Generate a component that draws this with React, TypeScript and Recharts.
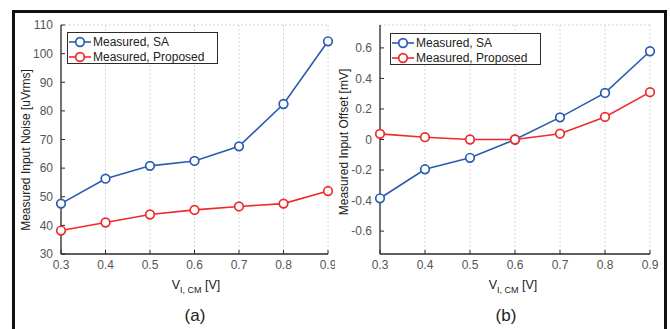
import React from 'react';
import { LineChart, Line, XAxis, YAxis, CartesianGrid } from 'recharts';

const vcm = [0.3, 0.4, 0.5, 0.6, 0.7, 0.8, 0.9];
const noiseSA = [47.6, 56.3, 60.8, 62.5, 67.6, 82.4, 104.3];
const noiseProposed = [38.2, 41.0, 43.8, 45.4, 46.6, 47.6, 52.0];
const offsetSA = [-0.385, -0.195, -0.12, 0.0, 0.145, 0.305, 0.578];
const offsetProposed = [0.037, 0.015, 0.0, 0.0, 0.038, 0.148, 0.31];

const xTicks = [0.3, 0.4, 0.5, 0.6, 0.7, 0.8, 0.9];
const noiseTicks = [30, 40, 50, 60, 70, 80, 90, 100, 110];
const offsetTicks = [-0.6, -0.4, -0.2, 0, 0.2, 0.4, 0.6];

const seriesNames = ['Measured, SA', 'Measured, Proposed'];

const noiseData = vcm.map((x, i) => ({ x, sa: noiseSA[i], pr: noiseProposed[i] }));
const offsetData = vcm.map((x, i) => ({ x, sa: offsetSA[i], pr: offsetProposed[i] }));

const BLUE = '#2a5bb0';
const RED = '#ee2a2a';
const FONT = '"Liberation Sans", Arial, Helvetica, sans-serif';
const AX = '#2b2b2b';
const TICK = { fill: '#555', fontSize: 12, fontFamily: FONT };

const fmtX = (v: number) => v.toFixed(1);
const fmtOff = (v: number) => (v === 0 ? '0' : v.toFixed(1));
const blank = () => '';

function Legend({ left, top, width }: { left: number; top: number; width: number }) {
  const colors = [BLUE, RED];
  return (
    <div
      style={{
        position: 'absolute',
        left,
        top,
        width,
        height: 32,
        border: `1.3px solid ${AX}`,
        background: '#fff',
        boxSizing: 'border-box',
        fontFamily: FONT,
        fontSize: 12,
        color: '#222',
      }}
    >
      {seriesNames.map((n, i) => (
        <div key={n} style={{ position: 'absolute', left: 0, top: 2 + i * 14.5, height: 14, display: 'flex', alignItems: 'center' }}>
          <svg width={25} height={14} style={{ display: 'block' }}>
            <line x1={1} y1={7} x2={23} y2={7} stroke={colors[i]} strokeWidth={1.6} />
            <circle cx={12} cy={7} r={4.3} stroke={colors[i]} strokeWidth={1.7} fill="#fff" />
          </svg>
          <span style={{ marginLeft: 0, lineHeight: '14px' }}>{n}</span>
        </div>
      ))}
    </div>
  );
}

function XLabel({ cx }: { cx: number }) {
  return (
    <div
      style={{
        position: 'absolute',
        left: cx - 60,
        top: 278,
        width: 120,
        textAlign: 'center',
        fontFamily: FONT,
        fontSize: 12.5,
        color: '#222',
        lineHeight: '14px',
      }}
    >
      V<span style={{ fontSize: 9, position: 'relative', top: 4 }}>I, CM</span> [V]
    </div>
  );
}

function YLabel({ cx, cy, text }: { cx: number; cy: number; text: string }) {
  return (
    <div
      style={{
        position: 'absolute',
        left: cx - 100,
        top: cy - 7,
        width: 200,
        height: 14,
        lineHeight: '14px',
        textAlign: 'center',
        fontFamily: FONT,
        fontSize: 12,
        color: '#222',
        transform: 'rotate(-90deg)',
        whiteSpace: 'nowrap',
      }}
    >
      {text}
    </div>
  );
}

function Caption({ cx, text }: { cx: number; text: string }) {
  return (
    <div
      style={{
        position: 'absolute',
        left: cx - 30,
        top: 306,
        width: 60,
        textAlign: 'center',
        fontFamily: FONT,
        fontSize: 17,
        color: '#222',
        lineHeight: '20px',
      }}
    >
      {text}
    </div>
  );
}

function Panel({
  data,
  domain,
  ticks,
  yFmt,
  yWidth,
  rightMargin,
}: {
  data: any[];
  domain: [number, number];
  ticks: number[];
  yFmt: (v: number) => string;
  yWidth: number;
  rightMargin: number;
}) {
  return (
    <LineChart width={335} height={329} data={data} margin={{ top: 25, right: rightMargin, bottom: 0, left: 0 }}>
      <CartesianGrid stroke="#c8c8c8" strokeDasharray="1.5 2.5" strokeWidth={1} />
      <XAxis
        xAxisId="b"
        dataKey="x"
        type="number"
        domain={[0.3, 0.9]}
        ticks={xTicks}
        tickFormatter={fmtX}
        height={75}
        tickSize={-4}
        tickMargin={10}
        tick={TICK}
        axisLine={{ stroke: AX, strokeWidth: 1.3 }}
        tickLine={{ stroke: AX }}
        interval={0}
      />
      <XAxis
        xAxisId="t"
        orientation="top"
        dataKey="x"
        type="number"
        domain={[0.3, 0.9]}
        ticks={xTicks}
        tickFormatter={blank}
        height={0}
        tickSize={-4}
        axisLine={{ stroke: AX, strokeWidth: 1.3 }}
        tickLine={{ stroke: AX }}
        interval={0}
      />
      <YAxis
        yAxisId="l"
        type="number"
        domain={domain}
        ticks={ticks}
        tickFormatter={yFmt}
        width={yWidth}
        tickSize={-4}
        tickMargin={12}
        tick={TICK}
        axisLine={{ stroke: AX, strokeWidth: 1.3 }}
        tickLine={{ stroke: AX }}
        interval={0}
        allowDataOverflow
      />
      <YAxis
        yAxisId="r"
        orientation="right"
        type="number"
        domain={domain}
        ticks={ticks}
        tickFormatter={blank}
        width={0}
        tickSize={-4}
        axisLine={{ stroke: AX, strokeWidth: 1.3 }}
        tickLine={{ stroke: AX }}
        interval={0}
        allowDataOverflow
      />
      <Line
        xAxisId="b"
        yAxisId="l"
        dataKey="sa"
        stroke={BLUE}
        strokeWidth={1.6}
        dot={{ r: 4.3, stroke: BLUE, strokeWidth: 1.7, fill: '#fff' }}
        isAnimationActive={false}
      />
      <Line
        xAxisId="b"
        yAxisId="l"
        dataKey="pr"
        stroke={RED}
        strokeWidth={1.6}
        dot={{ r: 4.3, stroke: RED, strokeWidth: 1.7, fill: '#fff' }}
        isAnimationActive={false}
      />
    </LineChart>
  );
}

export default function App() {
  return (
    <div style={{ position: 'fixed', left: 0, top: 0, width: 670, height: 329, background: '#fff', overflow: 'hidden' }}>
      <div
        style={{
          position: 'absolute',
          left: 12,
          top: 10,
          width: 655,
          height: 340,
          border: '3.5px solid #111',
          boxSizing: 'border-box',
        }}
      />
      <div style={{ position: 'absolute', left: 0, top: 0 }}>
        <Panel data={noiseData} domain={[30, 110]} ticks={noiseTicks} yFmt={(v) => String(v)} yWidth={61} rightMargin={7} />
      </div>
      <div style={{ position: 'absolute', left: 335, top: 0 }}>
        <Panel data={offsetData} domain={[-0.75, 0.75]} ticks={offsetTicks} yFmt={fmtOff} yWidth={45} rightMargin={20} />
      </div>
      <Legend left={67} top={32} width={151} />
      <Legend left={390} top={33} width={151} />
      <YLabel cx={26} cy={150} text="Measured Input Noise [uVrms]" />
      <YLabel cx={344} cy={142} text="Measured Input Offset [mV]" />
      <XLabel cx={196} />
      <XLabel cx={513} />
      <Caption cx={195} text="(a)" />
      <Caption cx={506} text="(b)" />
    </div>
  );
}
